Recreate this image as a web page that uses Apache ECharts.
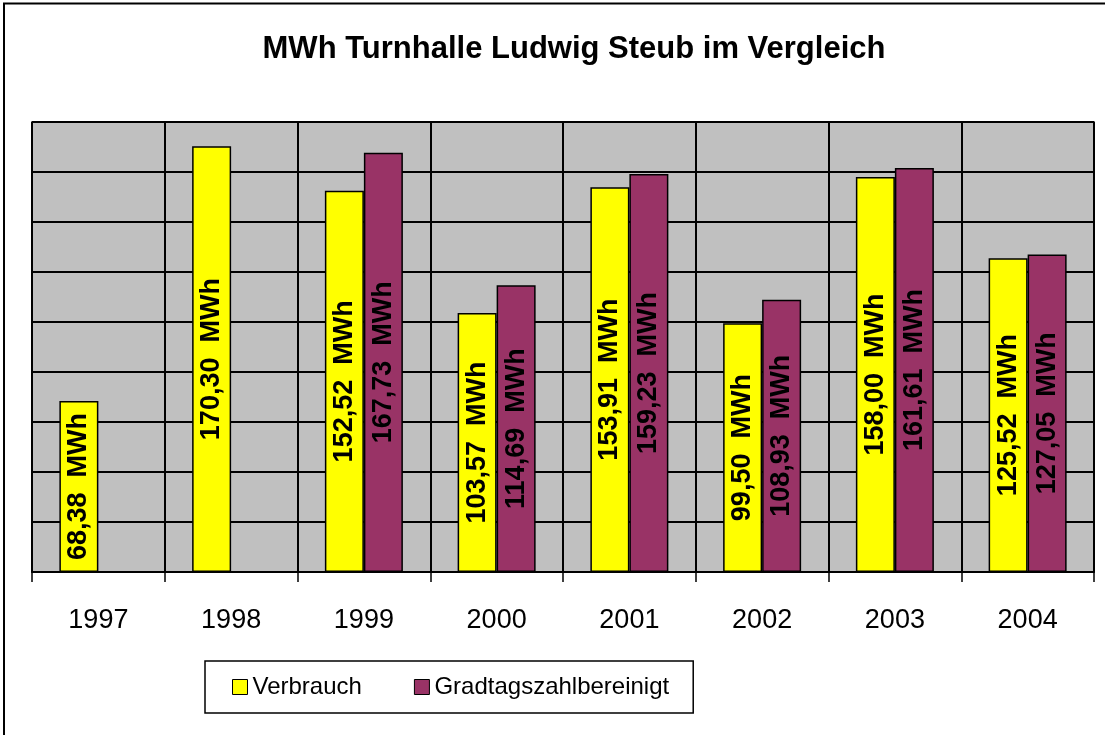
<!DOCTYPE html>
<html>
<head>
<meta charset="utf-8">
<title>MWh Turnhalle Ludwig Steub im Vergleich</title>
<script src="https://cdn.jsdelivr.net/npm/echarts@6/dist/echarts.min.js"></script>
<style>
    html, body { margin: 0; padding: 0; background: #fff; }
    #main { width: 1105px; height: 735px; }
</style>
</head>
<body>
<div id="main"></div>
<script>
var years = ['1997', '1998', '1999', '2000', '2001', '2002', '2003', '2004'];
var verbrauch = [68.38, 170.30, 152.52, 103.57, 153.91, 99.50, 158.00, 125.52];
var bereinigt = [null, null, 167.73, 114.69, 159.23, 108.93, 161.61, 127.05];
var seriesNames = ['Verbrauch', 'Gradtagszahlbereinigt'];

var FONT = '"Liberation Sans", Arial, sans-serif';

var module = "MWH_CHART";
if (!window[module]) {
    window[module] = function(id) { this.id = id; };
}
(function(Module) {
    Module.prototype.init = function() {
        this.dom = document.getElementById(this.id);
        this.chart = echarts.init(this.dom, null, { renderer: 'canvas' });
        this.chart.setOption(this.getOption());
    };
    Module.prototype.labelFmt = function(p) {
        // Excel-Format: Dezimalkomma + Einheit
        return p.value.toFixed(2).replace('.', ',') + '  MWh';
    };
    Module.prototype.barSeries = function(name, data, color) {
        return {
            name: name,
            type: 'bar',
            data: data,
            barWidth: 39,
            barGap: '0%',
            itemStyle: { color: color, borderColor: '#000', borderWidth: 1.5 },
            label: {
                show: true,
                position: 'inside',
                rotate: 90,
                align: 'center',
                verticalAlign: 'middle',
                color: '#000',
                fontFamily: FONT,
                fontWeight: 'bold',
                fontSize: 27,
                formatter: this.labelFmt
            }
        };
    };
    Module.prototype.getOption = function() {
        return {
            animation: false,
            backgroundColor: '#fff',
            textStyle: { fontFamily: FONT },
            graphic: [{
                type: 'rect',
                shape: { x: 4, y: 3.5, width: 1200, height: 1000 },
                style: { fill: 'none', stroke: '#000', lineWidth: 2 },
                silent: true
            }],
            title: {
                text: 'MWh Turnhalle Ludwig Steub im Vergleich',
                left: 574,
                textAlign: 'center',
                top: 34,
                padding: 0,
                textStyle: { fontFamily: FONT, fontWeight: 'bold', fontSize: 31, color: '#000' }
            },
            legend: {
                data: seriesNames,
                left: 205,
                top: 661,
                orient: 'horizontal',
                padding: [14, 24, 14, 27],
                itemGap: 52,
                itemWidth: 15,
                itemHeight: 15,
                icon: 'rect',
                borderColor: '#000',
                borderWidth: 1.5,
                itemStyle: { borderColor: '#000', borderWidth: 1 },
                textStyle: { fontFamily: FONT, fontSize: 24, color: '#000' }
            },
            grid: {
                left: 32,
                right: 11,
                top: 122,
                bottom: 163,
                show: true,
                backgroundColor: '#C0C0C0',
                borderColor: '#808080',
                borderWidth: 2
            },
            xAxis: {
                type: 'category',
                data: years,
                axisLine: { lineStyle: { color: '#000', width: 2 } },
                axisTick: { show: true, length: 10, lineStyle: { color: '#000', width: 1.5 } },
                axisLabel: { color: '#000', fontSize: 27, fontFamily: FONT, margin: 35 },
                splitLine: { show: true, lineStyle: { color: '#000', width: 2 } }
            },
            yAxis: {
                type: 'value',
                min: 0,
                max: 180,
                interval: 20,
                axisLine: { show: false },
                axisTick: { show: false },
                axisLabel: { show: false },
                splitLine: { show: true, lineStyle: { color: '#000', width: 2 } }
            },
            series: [
                this.barSeries(seriesNames[0], verbrauch, '#FFFF00'),
                this.barSeries(seriesNames[1], bereinigt, '#993366')
            ]
        };
    };
})(window[module]);

new window[module]('main').init();
</script>
</body>
</html>
